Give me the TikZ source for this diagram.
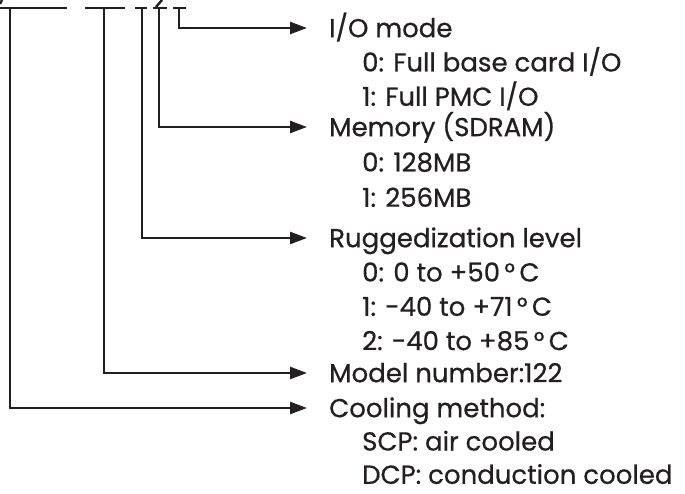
\documentclass[tikz,border=0pt]{standalone}
\usepackage{fontspec}
\setmainfont{Poppins}[UprightFeatures={FakeBold=0.6}]
\usetikzlibrary{arrows.meta,positioning}
\definecolor{CodeInk}{HTML}{231F20}
\tikzset{
  bar/.style={line width=2.4pt,draw=CodeInk},
  lead/.style={bar,-{Triangle[length=17pt,width=12pt]}},
  field/.style={anchor=west,inner sep=0pt,text height=18.4pt,text depth=0pt,
    text=CodeInk,font=\fontsize{26}{34}\selectfont},
  choice/.style={field}
}
\begin{document}
\begin{tikzpicture}[x=1pt,y=-1pt]
  \useasboundingbox (0,0) rectangle (685,494);
  % part number underlines, cropped at the top
  \draw[bar] (0,8) -- (67,8);
  \draw[bar] (85,8) -- (125,8);
  \draw[bar] (135,8) -- (147,8);
  \draw[bar] (153,8) -- (167,8);
  \draw[bar] (173,8) -- (186,8);
  \draw[bar] (0,4) -- (2,0);
  \draw[bar] (156,7) -- (162,0);
  \coordinate (cool) at (10,8);
  \coordinate (model) at (104,8);
  \coordinate (rugg) at (142,8);
  \coordinate (mem) at (159,8);
  \coordinate (iomode) at (179,8);
  % field headings
  \node[field] (io) at (329,28) {I/O mode};
  \node[choice,below right=15.5pt and 33pt of io.south west] (io0) {0: Full base card I/O};
  \node[choice,below right=15.5pt and 0pt of io0.south west] (io1) {1: Full PMC I/O};
  \node[field] (sdram) at (329,127) {Memory (SDRAM)};
  \node[choice,below right=16.5pt and 33pt of sdram.south west] (sdram0) {0: 128MB};
  \node[choice,below right=16.5pt and 0pt of sdram0.south west] (sdram1) {1: 256MB};
  \node[field] (level) at (329,238) {Ruggedization level};
  \node[choice,below right=15.5pt and 33pt of level.south west] (level0) {0: 0 to +50\,°\,C};
  \node[choice,below right=15.5pt and 0pt of level0.south west] (level1) {1: -40 to +71\,°\,C};
  \node[choice,below right=15.5pt and 0pt of level1.south west] (level2) {2: -40 to +85\,°\,C};
  \node[field] (num) at (329,373) {Model number:122};
  \node[field] (cooling) at (329,408) {Cooling method:};
  \node[choice,below right=14.5pt and 33pt of cooling.south west] (cool0) {SCP: air cooled};
  \node[choice,below right=14.5pt and 0pt of cool0.south west] (cool1) {DCP: conduction cooled};
  % leads
  \draw[lead] (iomode) |- ([xshift=-22pt]io.west);
  \draw[lead] (mem) |- ([xshift=-22pt]sdram.west);
  \draw[lead] (rugg) |- ([xshift=-22pt]level.west);
  \draw[lead] (model) |- ([xshift=-22pt]num.west);
  \draw[lead] (cool) |- ([xshift=-22pt]cooling.west);
\end{tikzpicture}
\end{document}
